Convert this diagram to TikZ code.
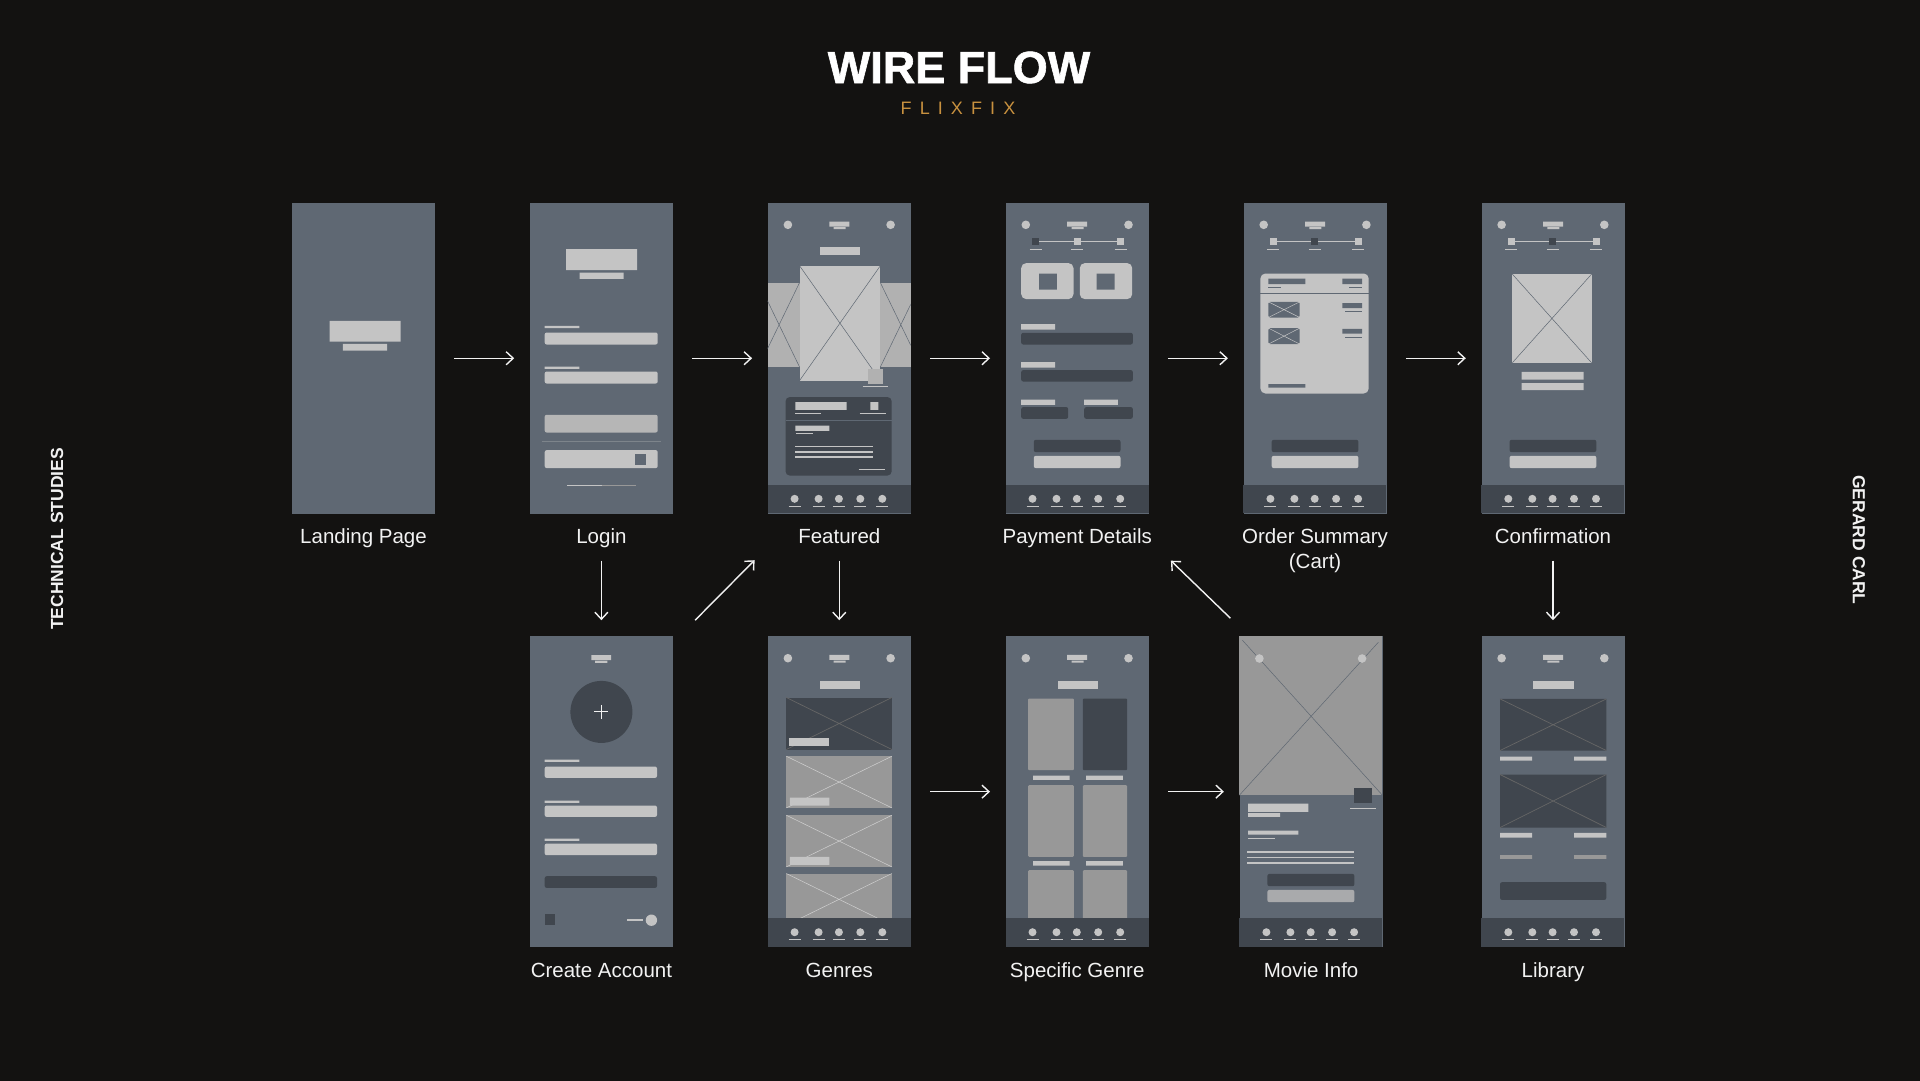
\documentclass[tikz,border=0pt]{standalone}
\usepackage{fontspec}
\setmainfont{Liberation Sans}
\newfontfamily\heavyfont[FakeBold=1.3]{Liberation Sans Bold}
\usepackage{tikz}
\usetikzlibrary{arrows.meta, positioning, calc}

\definecolor{bgdark}{HTML}{131211}
\definecolor{scrgray}{HTML}{5F6873}
\definecolor{wlight}{HTML}{C4C4C4}
\definecolor{wdark}{HTML}{40464E}
\definecolor{wmid}{HTML}{989898}
\definecolor{wband}{HTML}{B1B1B1}
\definecolor{wtex}{HTML}{B6B6B6}
\definecolor{gold}{HTML}{C8913F}
\definecolor{ink}{HTML}{F2F2F2}

% screen parts, drawn in the screen's own pixel frame
\newcommand{\scrhead}{%
  \fill[wlight] (20.3,22) circle (4.3pt) (123,22) circle (4.3pt);
  \fill[wlight] (61.7,18.7) rectangle (81.7,23.7) (66,24.3) rectangle (78,26.3);}
\newcommand{\scrnav}{%
  \fill[wdark] (0,282) rectangle (143,310.5);
  \foreach \dx in {27,51,71.3,92.7,114.7}{
    \fill[wlight] (\dx,296) circle (4pt);
    \draw[wlight, line width=1.2pt] (\dx-6,303.3) -- (\dx+6,303.3);}}
\newcommand{\scrsteps}[1]{%
  \draw[wlight, line width=1pt] (30,39) -- (115,39);
  \foreach \sx [count=\si] in {30,71.5,115}{
    \ifnum\si=#1 \def\sc{wdark}\else\def\sc{wlight}\fi
    \fill[\sc] (\sx-3.5,35.5) rectangle (\sx+3.5,42.5);
    \draw[wlight, line width=1pt] (\sx-6,47) -- (\sx+6,47);}}
\newcommand{\scrbtns}{%
  \fill[wdark, rounded corners=2pt] (28.3,237) rectangle (115,249.3);
  \fill[wlight, rounded corners=2pt] (28.3,253) rectangle (115,265.3);}

\begin{document}
\begin{tikzpicture}[
  x=1pt, y=-1pt,
  node distance=122.5pt and 94.5pt,
  scr/.style={rectangle, fill=scrgray, minimum width=143pt,
              minimum height=310.5pt, inner sep=0pt},
  lbl/.style={text=ink, anchor=base, align=center, inner sep=0pt,
              font=\fontsize{20.5}{25}\selectfont},
  side/.style={text=ink, font=\fontsize{17.5}{20}\selectfont\bfseries},
  flow/.style={-{Straight Barb[length=7pt,width=13pt]}, ink, line width=1.4pt},
  hflow/.style={flow, shorten <=19pt, shorten >=15.5pt},
  vflow/.style={flow, shorten <=47pt, shorten >=16pt},
  xline/.style={line width=0.5pt}
]

\useasboundingbox (0,0) rectangle (1920,1080);
\fill[bgdark] (-3,-3) rectangle (1923,1083);

\node[text=white, anchor=base, font=\fontsize{45}{50}\selectfont\heavyfont] (title)
  at (959,83) {WIRE FLOW};
\node[text=gold, anchor=base,
      font=\fontsize{18}{20}\selectfont\addfontfeature{LetterSpace=45}] (sub)
  at (958,114) {FLIXFIX};
\node[side, rotate=90] (studies) at (57,539) {TECHNICAL STUDIES};
\node[side, rotate=-90] (author) at (1859,540) {GERARD CARL};

% screens
\node[scr] (landing) at (363.5,358.25) {};
\node[scr, right=of landing] (login) {};
\node[scr, right=of login] (featured) {};
\node[scr, right=of featured] (payment) {};
\node[scr, right=of payment] (order) {};
\node[scr, right=of order] (confirm) {};
\node[scr, below=of login] (create) {};
\node[scr, below=of featured] (genres) {};
\node[scr, below=of payment] (specific) {};
\node[scr, below=of order, xshift=-4pt] (movie) {};
\node[scr, below=of confirm] (library) {};

% labels
\node[lbl] (landing-l) at ([yshift=-30pt]landing.south) {Landing Page};
\node[lbl] (login-l) at ([yshift=-30pt]login.south) {Login};
\node[lbl] (featured-l) at ([yshift=-30pt]featured.south) {Featured};
\node[lbl] (payment-l) at ([yshift=-30pt]payment.south) {Payment Details};
\node[lbl] (order-l) at ([yshift=-55pt]order.south) {Order Summary\\(Cart)};
\node[lbl] (confirm-l) at ([yshift=-30pt]confirm.south) {Confirmation};
\node[lbl] (create-l) at ([yshift=-30pt]create.south) {Create Account};
\node[lbl] (genres-l) at ([yshift=-30pt]genres.south) {Genres};
\node[lbl] (specific-l) at ([yshift=-30pt]specific.south) {Specific Genre};
\node[lbl] (movie-l) at ([yshift=-30pt]movie.south) {Movie Info};
\node[lbl] (library-l) at ([yshift=-30pt]library.south) {Library};

% landing page
\begin{scope}[shift={(landing.north west)}]
  \fill[wlight] (37.7,118) rectangle (108.7,138.7) (51,141) rectangle (95.3,147.7);
\end{scope}

% login
\begin{scope}[shift={(login.north west)}]
  \fill[wlight] (36.3,46.3) rectangle (107.3,67.3) (50,69.7) rectangle (94,76);
  \fill[wlight] (15,123) rectangle (49.7,125.3) (15,163.7) rectangle (49.7,166);
  \fill[wlight, rounded corners=2pt] (15,129.7) rectangle (128,141.7)
    (15,168.7) rectangle (128,180.7) (15,247.3) rectangle (128,265.3);
  \fill[wtex, rounded corners=2pt] (15,212) rectangle (128,229.7);
  \draw[scrgray!70!wlight, line width=0.8pt] (12,238.3) -- (131,238.3);
  \fill[scrgray] (105.3,251) rectangle (116.3,262);
  \draw[wlight, line width=1.5pt] (37.3,282.7) -- (72,282.7);
  \draw[wmid, line width=1.5pt] (72,282.7) -- (106.7,282.7);
\end{scope}

% featured
\begin{scope}[shift={(featured.north west)}]
  \scrhead
  \fill[wlight] (52.3,44.3) rectangle (92.3,52.3);
  \fill[wband] (0,79.7) rectangle (143,164.3);
  \begin{scope}
    \clip (0,79.7) rectangle (143,164.3);
    \draw[xline, scrgray] (-9,79.7) -- (32,164.3) (-9,164.3) -- (32,79.7)
      (112.7,79.7) -- (153.7,164.3) (112.7,164.3) -- (153.7,79.7);
  \end{scope}
  \fill[wlight] (32,63) rectangle (112.7,177.7);
  \draw[xline, scrgray] (32,63) -- (112.7,177.7) (32,177.7) -- (112.7,63);
  \fill[wband] (100,165.7) rectangle (115.3,181.3);
  \draw[wlight, line width=1pt] (95,184) -- (120.7,184);
  \fill[wdark, rounded corners=4pt] (18,194.3) rectangle (124,272.7);
  \draw[scrgray, line width=0.8pt] (18,217.3) -- (124,217.3);
  \fill[wlight] (27.7,199.3) rectangle (79,207) (102.7,199.3) rectangle (110.7,207)
    (27.7,222.7) rectangle (61.7,228);
  \draw[wlight, line width=0.8pt] (27.7,210.3) -- (53.3,210.3) (92,210.3) -- (118,210.3)
    (28.7,230.5) -- (45,230.5) (91,267) -- (117.3,267);
  \foreach \ly in {243.7,249,254.3}
    \draw[wlight, line width=1.6pt] (27.7,\ly) -- (105,\ly);
  \scrnav
\end{scope}

% payment details
\begin{scope}[shift={(payment.north west)}]
  \scrhead
  \scrsteps{1}
  \fill[wlight, rounded corners=5pt] (15.7,60.3) rectangle (68,96.3)
    (74.3,60.3) rectangle (126.7,96.3);
  \fill[scrgray] (33.7,70.7) rectangle (51.3,86.7) (91,70.7) rectangle (109,86.7);
  \fill[wlight] (15.7,121.3) rectangle (49.7,126.7) (15.7,159.3) rectangle (49.7,164.7)
    (15.7,196.7) rectangle (49.7,202) (78.7,196.7) rectangle (112.3,202);
  \fill[wdark, rounded corners=2pt] (15.7,130) rectangle (127.3,141.7)
    (15.7,167.3) rectangle (127.3,178.7) (15.7,204.3) rectangle (62.7,216)
    (78.7,204.3) rectangle (127.3,216);
  \scrbtns
  \scrnav
\end{scope}

% order summary
\begin{scope}[shift={(order.north west)}]
  \scrhead
  \scrsteps{2}
  \fill[wlight, rounded corners=5pt] (17,70.7) rectangle (125.3,190.7);
  \fill[scrgray] (25,75.7) rectangle (62,81.3) (99,75.7) rectangle (118.7,81.3)
    (99,100.3) rectangle (118.7,105.3) (99,126) rectangle (118.7,130.7)
    (25,181.3) rectangle (62,184.7);
  \draw[scrgray, line width=0.8pt] (25,85) -- (37.3,85) (106,85) -- (118.7,85)
    (101.7,109) -- (118.7,109) (101.7,134.7) -- (118.7,134.7) (17,90.7) -- (125.3,90.7);
  \fill[scrgray, rounded corners=1.5pt] (25,99) rectangle (56.3,114.7)
    (25,125.3) rectangle (56.3,141.3);
  \draw[xline, wlight] (25,99) -- (56.3,114.7) (25,114.7) -- (56.3,99)
    (25,125.3) -- (56.3,141.3) (25,141.3) -- (56.3,125.3);
  \scrbtns
  \scrnav
\end{scope}

% confirmation
\begin{scope}[shift={(confirm.north west)}]
  \scrhead
  \scrsteps{2}
  \fill[wlight] (31,71.3) rectangle (110.3,160);
  \draw[xline, scrgray] (31,71.3) -- (110.3,160) (31,160) -- (110.3,71.3);
  \fill[wlight] (40.3,169) rectangle (102.3,176.7) (40.3,180.3) rectangle (102.3,187.3);
  \scrbtns
  \scrnav
\end{scope}

% create account
\begin{scope}[shift={(create.north west)}]
  \fill[wlight] (61.7,19) rectangle (81.3,24) (65.3,24.7) rectangle (77.7,26.7);
  \fill[wdark] (71.7,75.7) circle (31pt);
  \draw[ink, line width=1pt] (64.7,75.7) -- (78.7,75.7) (71.7,68.7) -- (71.7,82.7);
  \fill[wlight] (15,123.3) rectangle (49.7,125.7) (15,164.3) rectangle (49.7,166.7)
    (15,202.3) rectangle (49.7,204.7);
  \fill[wlight, rounded corners=2pt] (15,130.3) rectangle (127.3,141.7)
    (15,169.3) rectangle (127.3,180.7) (15,207.3) rectangle (127.3,219);
  \fill[wdark, rounded corners=2pt] (15,240) rectangle (127.3,251.7);
  \fill[wdark] (15,278) rectangle (25.7,288.7);
  \draw[wlight, line width=1.5pt] (97.3,284) -- (113.7,284);
  \fill[wlight] (121.7,284) circle (5.7pt);
\end{scope}

% genres
\begin{scope}[shift={(genres.north west)}]
  \scrhead
  \fill[wlight] (52,44.7) rectangle (92,52.7);
  \fill[wdark] (18.7,61.3) rectangle (124.3,113.3);
  \draw[xline, black!60, line width=0.7pt] (18.7,61.3) -- (124.3,113.3)
    (18.7,113.3) -- (124.3,61.3);
  \fill[wlight] (21,102) rectangle (61,110);
  \foreach \ct in {120,179,237.3}{
    \fill[wmid] (18.7,\ct) rectangle (124.3,\ct+51.7);
    \draw[xline, wlight!80!white] (18.7,\ct) -- (124.3,\ct+51.7) (18.7,\ct+51.7) -- (124.3,\ct);}
  \fill[wlight] (22.3,161.3) rectangle (61.7,169.3) (22.3,220.7) rectangle (61.7,228.7);
  \scrnav
\end{scope}

% specific genre
\begin{scope}[shift={(specific.north west)}]
  \scrhead
  \fill[wlight] (52.7,44.7) rectangle (92.7,52.7);
  \fill[wmid, rounded corners=1pt] (22.7,62.3) rectangle (68.3,134)
    (22.7,149) rectangle (68.3,220.7) (77.3,149) rectangle (121.7,220.7)
    (22.7,234) rectangle (68.3,290) (77.3,234) rectangle (121.7,290);
  \fill[wdark, rounded corners=1pt] (77.3,62.3) rectangle (121.7,134);
  \fill[wlight] (27.7,139.3) rectangle (64,143.7) (80.7,139.3) rectangle (117.3,143.7)
    (27.7,225) rectangle (64,229.3) (80.7,225) rectangle (117.3,229.3);
  \scrnav
\end{scope}

% movie info
\begin{scope}[shift={(movie.north west)}]
  \fill[wmid] (0,0) rectangle (143,159);
  \draw[xline, scrgray] (3,4) -- (143,159) (139,6) -- (0,159);
  \fill[wlight] (20,22.3) circle (4.3pt) (122.7,22.3) circle (4.3pt);
  \fill[wdark] (114.7,152) rectangle (132.7,167);
  \draw[wlight, line width=1pt] (110.7,172) -- (137,172) (8.7,202) -- (35.3,202);
  \fill[wlight] (8.7,167.3) rectangle (69,175.7) (8.7,177) rectangle (40.7,180.7)
    (8.7,194.3) rectangle (59,198.3);
  \foreach \ly in {215.7,221.3,226.7}
    \draw[wlight, line width=1.3pt] (7.7,\ly) -- (115,\ly);
  \fill[wdark, rounded corners=2pt] (28,237.7) rectangle (115,250);
  \fill[wtex!85!scrgray, rounded corners=2pt] (28,253.7) rectangle (115,266);
  \scrnav
\end{scope}

% library
\begin{scope}[shift={(library.north west)}]
  \scrhead
  \fill[wlight] (52,44.7) rectangle (92.3,52.7);
  \fill[wdark] (18.7,62.7) rectangle (125,114.3) (18.7,138.3) rectangle (125,191.3);
  \draw[xline, black!60, line width=0.7pt] (18.7,62.7) -- (125,114.3) (18.7,114.3) -- (125,62.7)
    (18.7,138.3) -- (125,191.3) (18.7,191.3) -- (125,138.3);
  \fill[wlight] (18.7,120.3) rectangle (50.7,124.3) (92.7,120.3) rectangle (125,124.3)
    (18.7,196.7) rectangle (50.7,201.3) (92.7,196.7) rectangle (125,201.3);
  \fill[wmid] (18.7,219) rectangle (50.7,222.7) (92.7,219) rectangle (125,222.7);
  \fill[wdark, rounded corners=2pt] (18.7,246) rectangle (125,263.7);
  \scrnav
\end{scope}

% flow arrows
\draw[hflow] (landing) -- (login);
\draw[hflow] (login) -- (featured);
\draw[hflow] (featured) -- (payment);
\draw[hflow] (payment) -- (order);
\draw[hflow] (order) -- (confirm);
\draw[hflow] (genres) -- (specific);
\draw[hflow] (specific) -- (movie);
\draw[vflow] (login) -- (create);
\draw[vflow] (featured) -- (genres);
\draw[vflow] (confirm) -- (library);
\draw[flow] ($(create.north east)+(22,-16)$) -- ($(featured.south west)+(-13,46.5)$);
\draw[flow] ($(movie.north west)+(-9,-18)$) -- ($(payment.south east)+(22,47)$);

\end{tikzpicture}
\end{document}
